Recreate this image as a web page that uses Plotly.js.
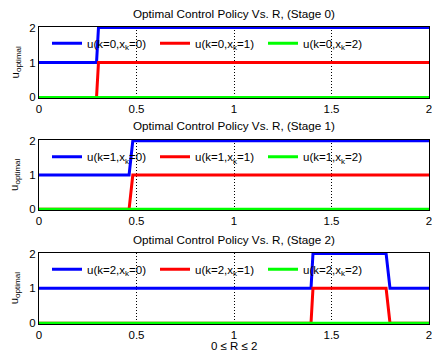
<!DOCTYPE html>
<html><head><meta charset="utf-8">
<script src="https://cdn.plot.ly/plotly-3.0.1.min.js"></script>
<style>body{margin:0;background:#fff}#c{width:432px;height:354px}</style>
</head><body><div id="c"></div>
<script>
// Stage 0
const R_stage0 = [0, 0.295, 0.305, 2];
const u_s0_x0 = [1, 1, 2, 2];
const u_s0_x1 = [0, 0, 1, 1];
const u_s0_x2 = [0, 0, 0, 0];
// Stage 1
const R_stage1 = [0, 0.462, 0.481, 2];
const u_s1_x0 = [1, 1, 2, 2];
const u_s1_x1 = [0, 0, 1, 1];
const u_s1_x2 = [0, 0, 0, 0];
// Stage 2
const R_stage2 = [0, 1.395, 1.405, 1.78, 1.80, 2];
const u_s2_x0 = [1, 1, 2, 2, 1, 1];
const u_s2_x1 = [0, 0, 1, 1, 0, 0];
const u_s2_x2 = [0, 0, 0, 0, 0, 0];

const xTicks = [0, 0.5, 1, 1.5, 2];
const xTickLabels = ['0', '0.5', '1', '1.5', '2'];
const yTicks = [0, 1, 2];
const titles = ['Optimal Control Policy Vs. R, (Stage 0)', 'Optimal Control Policy Vs. R, (Stage 1)', 'Optimal Control Policy Vs. R, (Stage 2)'];
const xLabel = '0 \u2264 R \u2264 2';
const yLabel = 'u<sub>optimal</sub>';

const colors = ['#0000ff', '#ff0000', '#00ff00'];
const stages = [
  {R: R_stage0, u: [u_s0_x0, u_s0_x1, u_s0_x2]},
  {R: R_stage1, u: [u_s1_x0, u_s1_x1, u_s1_x2]},
  {R: R_stage2, u: [u_s2_x0, u_s2_x1, u_s2_x2]}
];

const H = 354, W = 432, ML = 39, MR = 3;
const PW = W - ML - MR;
const plotTop = [26.7, 140, 252.7];
const plotBot = [98.3, 210, 324];
const titleY = [13.5, 126, 239.5];
const legY = [43.3, 156.7, 269.3];
const py = v => 1 - v / H;
const fontFam = '"Liberation Sans", Arial, sans-serif';

const data = [];
const layout = {
  width: W, height: H,
  margin: {l: ML, r: MR, t: 0, b: 0},
  paper_bgcolor: '#fff', plot_bgcolor: '#fff',
  font: {family: fontFam, size: 11.5, color: '#000'},
  showlegend: true,
  annotations: []
};

stages.forEach((s, i) => {
  const sfx = i === 0 ? '' : String(i + 1);
  const legName = i === 0 ? 'legend' : 'legend' + (i + 1);
  for (let k = 0; k < 3; k++) {
    data.push({
      x: s.R, y: s.u[k], type: 'scatter', mode: 'lines',
      line: {color: colors[k], width: 3},
      name: 'u(k=' + i + ',x<sub>k</sub>=' + k + ')',
      xaxis: 'x' + sfx, yaxis: 'y' + sfx,
      legend: legName
    });
  }
  layout['xaxis' + sfx] = {
    domain: [0, 1], anchor: 'y' + sfx, range: [0, 2],
    tickvals: xTicks, ticktext: xTickLabels,
    showgrid: true, gridcolor: '#000', griddash: '1px,2px', gridwidth: 1,
    showline: true, linecolor: '#000', linewidth: 1, mirror: true,
    zeroline: false, ticks: '', automargin: false, ticklabeloverflow: 'allow',
    tickfont: {size: 11.5, color: '#000'}
  };
  layout['yaxis' + sfx] = {
    domain: [py(plotBot[i]), py(plotTop[i])], anchor: 'x' + sfx,
    range: [-0.025, 2.025],
    tickvals: yTicks,
    showgrid: false,
    showline: true, linecolor: '#000', linewidth: 1, mirror: true,
    zeroline: false, ticks: '', automargin: false, ticklabeloverflow: 'allow',
    tickfont: {size: 11.5, color: '#000'}
  };
  layout[legName] = {
    orientation: 'h', x: (47 - ML) / PW, xanchor: 'left',
    y: py(legY[i]), yanchor: 'middle',
    entrywidth: 63, entrywidthmode: 'pixels',
    bgcolor: 'rgba(0,0,0,0)', borderwidth: 0,
    font: {size: 11.5, family: fontFam, color: '#000'}
  };
  layout.annotations.push({
    text: titles[i], xref: 'paper', yref: 'paper', x: 0.5, y: py(titleY[i]),
    xanchor: 'center', yanchor: 'middle', showarrow: false,
    font: {size: 11.7, color: '#000'}
  });
  layout.annotations.push({
    text: yLabel, xref: 'paper', yref: 'paper', x: (15 - ML) / PW,
    y: py((plotTop[i] + plotBot[i]) / 2), xanchor: 'center', yanchor: 'middle',
    textangle: -90, showarrow: false, font: {size: 11.5, color: '#000'}
  });
});
layout.annotations.push({
  text: xLabel, xref: 'paper', yref: 'paper', x: 0.5, y: py(346),
  xanchor: 'center', yanchor: 'middle', showarrow: false,
  font: {size: 11.5, color: '#000'}
});

Plotly.newPlot('c', data, layout, {staticPlot: true, displayModeBar: false});
</script></body></html>
